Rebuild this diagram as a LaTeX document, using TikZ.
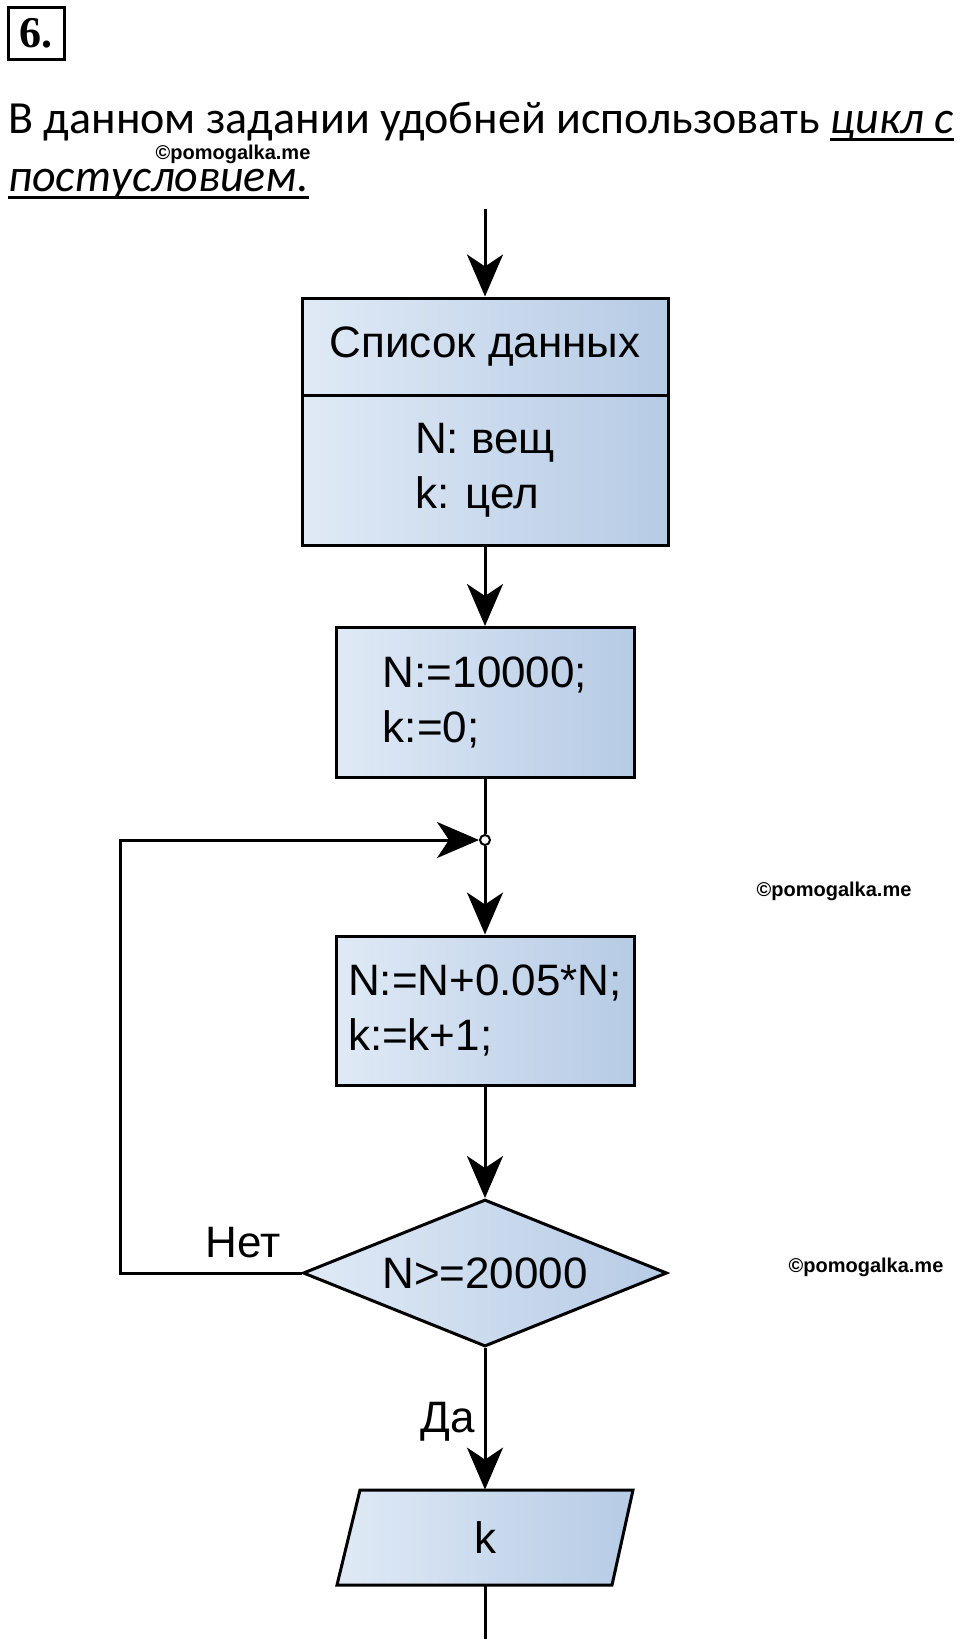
\documentclass[tikz,border=0pt]{standalone}
\usepackage{fontspec}
\setmainfont{Carlito}
\newfontfamily\flowfont{Liberation Sans}
\newfontfamily\numfont{Liberation Serif}
\usetikzlibrary{shapes.geometric, arrows.meta}

\definecolor{boxleft}{RGB}{224,234,246}
\definecolor{boxright}{RGB}{182,203,229}

\begin{document}
\begin{tikzpicture}[x=0.5pt, y=-0.5pt,
    flowtext/.style={font=\flowfont\fontsize{22}{27.5}\selectfont},
    block/.style={flowtext, draw, line width=1.5pt, left color=boxleft, right color=boxright, inner sep=0pt, align=left},
    flow/.style={line width=1.5pt, -{Stealth[length=21pt, width=18pt, inset=6pt]}},
    link/.style={line width=1.5pt},
    wmark/.style={font=\flowfont\bfseries\fontsize{10}{12}\selectfont, inner sep=0pt},
    title/.style={anchor=base west, inner sep=0pt, font=\fontsize{23}{28}\selectfont},
    uline/.style={line width=1.5pt}]
  \useasboundingbox (0,0) rectangle (960,1639);

  % heading
  \node[draw, line width=1.5pt, minimum width=28pt, minimum height=26pt, inner sep=0pt,
        font=\numfont\bfseries\fontsize{22}{26}\selectfont] (num) at (36,33) {6.};
  \node[title] (task) at (8,133) {В данном задании удобней использовать};
  \node[title, anchor=base west, xshift=5pt] (taskcycle) at (task.base east) {\textit{цикл с}};
  \node[title] (task2) at (8,191) {\textit{постусловием.}};
  \draw[uline] ([yshift=-3pt]taskcycle.base west) -- ([yshift=-3pt]taskcycle.base east);
  \draw[uline] ([yshift=-3pt]task2.base west) -- ([yshift=-3pt]task2.base east);

  % watermarks
  \node[wmark] (wm1) at (233,154) {©pomogalka.me};
  \node[wmark] (wm2) at (834,891) {©pomogalka.me};
  \node[wmark] (wm3) at (866,1267) {©pomogalka.me};

  % blocks
  \node[block, align=center, minimum width=183pt, minimum height=48.5pt] (listhead) at (485,346.5) {Список данных};
  \node[block, minimum width=183pt, minimum height=75pt] (listbody) at (485,470) {N: вещ\\k: цел};
  \node[block, minimum width=149pt, minimum height=75pt] (init) at (485,702.5) {N:=10000;\\k:=0;};
  \node[block, minimum width=149pt, minimum height=74.5pt] (update) at (485,1010.5) {N:=N+0.05*N;\\k:=k+1;};
  \node[block, diamond, aspect=2.5, minimum width=182pt, minimum height=73.5pt] (cond) at (485,1273) {N>=20000};

  % output (parallelogram)
  \draw[line width=1.5pt, left color=boxleft, right color=boxright]
    (337,1585) -- (360,1490) -- (633,1490) -- (612,1585) -- cycle;
  \node[flowtext, minimum width=120pt, minimum height=47.5pt, inner sep=0pt] (out) at (485,1537.5) {k};

  % points
  \coordinate (entry) at (485,209);
  \node[circle, draw, line width=1pt, fill=white, inner sep=0pt, minimum size=5pt] (join) at (485,840) {};
  \coordinate (loopcorner) at (120,840);
  \coordinate (exit) at (485,1639);

  % connectors
  \draw[flow] (entry) -- (listhead);
  \draw[flow] (listbody) -- (init);
  \draw[link] (init) -- (join);
  \draw[flow] (join) -- (update);
  \draw[flow] (update) -- (cond);
  \draw[flow] (cond.west) -| (loopcorner) -- (join);
  \draw[flow] (cond) -- (out);
  \draw[link] (out) -- (exit);

  % labels
  \node[flowtext] (no) at (243,1243) {Нет};
  \node[flowtext] (yes) at (448,1422) {Да};
\end{tikzpicture}
\end{document}
